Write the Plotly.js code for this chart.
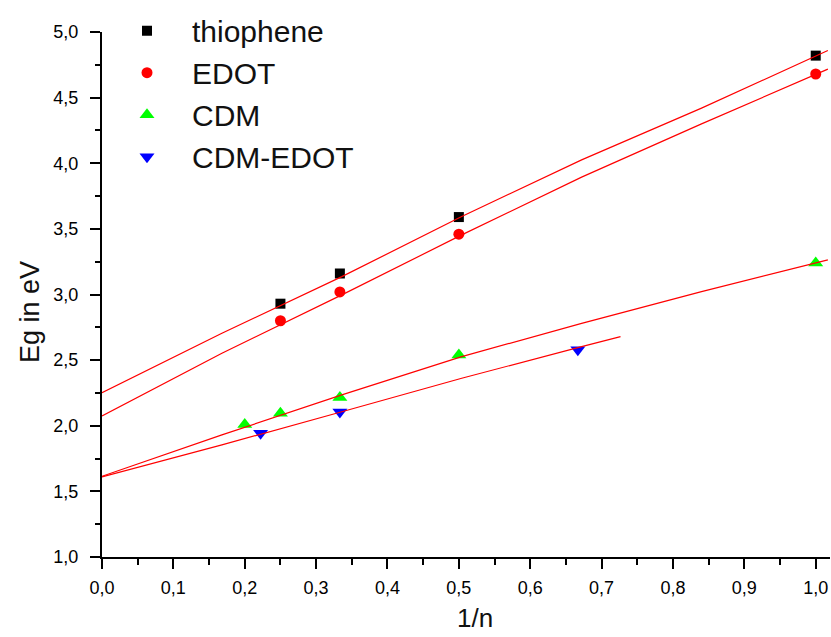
<!DOCTYPE html>
<html>
<head>
<meta charset="utf-8">
<script src="https://cdn.plot.ly/plotly-3.0.1.min.js"></script>
<style>html,body{margin:0;padding:0;background:#fff;}#chart{width:831px;height:637px;}</style>
</head>
<body>
<div id="chart"></div>
<script>
// Measured data points (1/n vs Eg in eV)
const thiopheneX = [0.25, 0.3333, 0.5, 1.0];
const thiopheneY = [2.93, 3.16, 3.59, 4.82];
const edotX = [0.25, 0.3333, 0.5, 1.0];
const edotY = [2.80, 3.02, 3.46, 4.68];
const cdmX = [0.2, 0.25, 0.3333, 0.5, 1.0];
const cdmY = [2.01, 2.095, 2.215, 2.54, 3.24];
const cdmEdotX = [0.2222, 0.3333, 0.6667];
const cdmEdotY = [1.943, 2.105, 2.58];

// Fit lines, points
const fitThioX = [0, 0.168, 0.336, 0.504, 0.672, 0.840, 1.017];
const fitThioY = [2.252, 2.705, 3.136, 3.594, 4.026, 4.42, 4.859];
const fitEdotX = [0, 0.168, 0.336, 0.504, 0.672, 0.840, 1.017];
const fitEdotY = [2.075, 2.553, 2.997, 3.454, 3.894, 4.30, 4.717];
const fitCdmX = [0, 0.168, 0.336, 0.504, 0.672, 0.840, 1.017];
const fitCdmY = [1.615, 1.93, 2.235, 2.527, 2.78, 3.022, 3.264];
const fitCdmEdotX = [0, 0.168, 0.336, 0.504, 0.672, 0.7265];
const fitCdmEdotY = [1.61, 1.854, 2.107, 2.362, 2.603, 2.679];

const seriesNames = ['thiophene', 'EDOT', 'CDM', 'CDM-EDOT'];
const xTitle = '1/n';
const yTitle = 'Eg in eV';

const FONT = 'Arial, "Liberation Sans", sans-serif';
const fitLine = {color: '#ff0000', width: 1.2};

const traces = [
  {x: thiopheneX, y: thiopheneY, name: seriesNames[0], mode: 'markers', type: 'scatter',
   marker: {symbol: 'square', size: 10, color: '#000000'}},
  {x: edotX, y: edotY, name: seriesNames[1], mode: 'markers', type: 'scatter',
   marker: {symbol: 'circle', size: 11, color: '#ff0000'}},
  {x: cdmX, y: cdmY, name: seriesNames[2], mode: 'markers', type: 'scatter',
   marker: {symbol: 'triangle-up', size: 13, color: '#00ff00'}},
  {x: cdmEdotX, y: cdmEdotY, name: seriesNames[3], mode: 'markers', type: 'scatter',
   marker: {symbol: 'triangle-down', size: 13, color: '#0000ff'}},
  {x: fitThioX, y: fitThioY, mode: 'lines', type: 'scatter', showlegend: false, line: fitLine, hoverinfo: 'skip'},
  {x: fitEdotX, y: fitEdotY, mode: 'lines', type: 'scatter', showlegend: false, line: fitLine, hoverinfo: 'skip'},
  {x: fitCdmX, y: fitCdmY, mode: 'lines', type: 'scatter', showlegend: false, line: fitLine, hoverinfo: 'skip'},
  {x: fitCdmEdotX, y: fitCdmEdotY, mode: 'lines', type: 'scatter', showlegend: false, line: fitLine, hoverinfo: 'skip'}
];

const layout = {
  width: 831, height: 637,
  margin: {l: 102, r: 1, t: 32, b: 80},
  paper_bgcolor: '#ffffff', plot_bgcolor: '#ffffff',
  separators: ', ',
  font: {family: FONT, color: '#000000', size: 18},
  showlegend: true,
  legend: {
    x: 0.0, y: 1.052, xanchor: 'left', yanchor: 'top',
    bgcolor: 'rgba(0,0,0,0)', borderwidth: 0,
    font: {family: FONT, size: 30, color: '#111111'},
    itemwidth: 80, tracegroupgap: 0
  },
  xaxis: {
    range: [0, 1.02], autorange: false,
    showgrid: false, zeroline: false,
    showline: true, linecolor: '#000000', linewidth: 2,
    ticks: 'outside', ticklen: 10, tickwidth: 2, tickcolor: '#000000',
    dtick: 0.1, tick0: 0, tickformat: '.1f', ticklabelstandoff: 3,
    tickfont: {family: FONT, size: 18, color: '#000000'},
    minor: {ticks: 'outside', ticklen: 6, tickwidth: 2, tickcolor: '#000000', dtick: 0.05, showgrid: false}
  },
  yaxis: {
    range: [1, 5], autorange: false,
    showgrid: false, zeroline: false,
    showline: true, linecolor: '#000000', linewidth: 2,
    ticks: 'outside', ticklen: 10, tickwidth: 2, tickcolor: '#000000',
    dtick: 0.5, tick0: 1, tickformat: '.1f', ticklabelstandoff: 8,
    tickfont: {family: FONT, size: 18, color: '#000000'},
    minor: {ticks: 'outside', ticklen: 5, tickwidth: 2, tickcolor: '#000000', dtick: 0.25, showgrid: false}
  },
  annotations: [
    {text: xTitle, xref: 'paper', yref: 'paper', x: (475 - 102) / 728, y: -(618 - 557) / 525,
     xanchor: 'center', yanchor: 'middle', showarrow: false,
     font: {family: FONT, size: 26, color: '#111111'}},
    {text: yTitle, xref: 'paper', yref: 'paper', x: (30 - 102) / 728, y: (557 - 312) / 525,
     xanchor: 'center', yanchor: 'middle', showarrow: false, textangle: -90,
     font: {family: FONT, size: 27, color: '#111111'}}
  ]
};

Plotly.newPlot('chart', traces, layout, {displayModeBar: false, staticPlot: true});
</script>
</body>
</html>
